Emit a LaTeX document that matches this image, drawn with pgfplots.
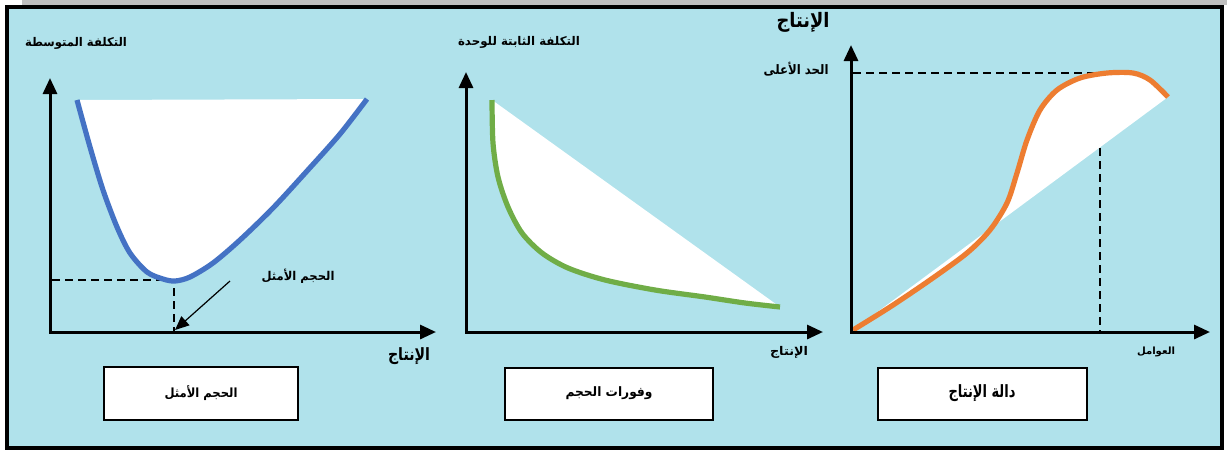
\documentclass[border=0pt]{standalone}
\usepackage{fontspec}
\usepackage{graphicx}
\usepackage{pgfplots}
\pgfplotsset{compat=1.18}
\usetikzlibrary{arrows.meta}
\newfontfamily\arabicfont[Script=Arabic]{DejaVu Sans}
\TeXXeTstate=1
% #1 width (pt), #2 total height (pt), #3 text
\newcommand{\ar}[3]{\resizebox*{#1pt}{#2pt}{\arabicfont\bfseries #3}}
\definecolor{bgblue}{RGB}{176,226,235}
\definecolor{cblue}{RGB}{68,114,196}
\definecolor{cgreen}{RGB}{112,173,71}
\definecolor{corange}{RGB}{237,125,49}
\begin{document}
\begin{tikzpicture}
\begin{axis}[width=613.5pt,height=226pt,scale only axis,
  xmin=0,xmax=1227,ymin=0,ymax=452,y dir=reverse,
  axis lines=none,clip=false]
% background
\fill[white] (axis cs:0,0) rectangle (axis cs:1227,452);
\fill[black!25] (axis cs:22,0) rectangle (axis cs:1227,5);
\fill[bgblue] (axis cs:7,7) rectangle (axis cs:1222,448);
\draw[line width=2pt] (axis cs:7,7) rectangle (axis cs:1222,448);

% ---------- panel 1 ----------
\addplot[fill=white,draw=none,smooth] coordinates {
 (77,100) (90,147) (103,190) (117,227) (130,253) (147,272) (163,279) (175,281)
 (190,277) (213,263) (240,240) (273,208) (307,171) (340,134) (367,99)} -- cycle;
\addplot[black,dashed,line width=0.75pt,dash pattern=on 4pt off 2.5pt] coordinates {(52,280) (174,280) (174,332)};
\addplot[cblue,line width=2.6pt,smooth] coordinates {
 (77,100) (90,147) (103,190) (117,227) (130,253) (147,272) (163,279) (175,281)
 (190,277) (213,263) (240,240) (273,208) (307,171) (340,134) (367,99)};
\draw[line width=1.5pt,-{Triangle[length=8pt,width=7pt]}] (axis cs:50,333) -- (axis cs:50,78);
\draw[line width=1.5pt,-{Triangle[length=8pt,width=7pt]}] (axis cs:49,332) -- (axis cs:436,332);
\draw[line width=0.6pt,-{Triangle[length=7pt,width=6pt]}] (axis cs:230,281) -- (axis cs:175,330);
\node at (axis cs:76,43) {\ar{51}{6}{\beginR التكلفة المتوسطة\endR}};
\node at (axis cs:409,356) {\ar{21}{8.5}{\beginR الإنتاج\endR}};
\node at (axis cs:298,276) {\ar{36.5}{7.2}{\beginR الحجم الأمثل\endR}};
\draw[fill=white,line width=1pt] (axis cs:104,367) rectangle (axis cs:298,420);
\node at (axis cs:201,393) {\ar{36.5}{7.5}{\beginR الحجم الأمثل\endR}};

% ---------- panel 2 ----------
\addplot[fill=white,draw=none,smooth] coordinates {
 (492,100) (493,143) (498,177) (508,207) (522,233) (542,253) (568,268) (605,280)
 (655,290) (705,297) (745,303) (780,307)} -- cycle;
\addplot[cgreen,line width=2.6pt,smooth] coordinates {
 (492,100) (493,143) (498,177) (508,207) (522,233) (542,253) (568,268) (605,280)
 (655,290) (705,297) (745,303) (780,307)};
\draw[line width=1.5pt,-{Triangle[length=8pt,width=7pt]}] (axis cs:466,333) -- (axis cs:466,72);
\draw[line width=1.5pt,-{Triangle[length=8pt,width=7pt]}] (axis cs:465,332) -- (axis cs:823,332);
\node at (axis cs:519,42) {\ar{61}{6}{\beginR التكلفة الثابتة للوحدة\endR}};
\node at (axis cs:789,352) {\ar{19}{6}{\beginR الإنتاج\endR}};
\draw[fill=white,line width=1pt] (axis cs:505,368) rectangle (axis cs:713,420);
\node at (axis cs:609,393) {\ar{43.5}{6.5}{\beginR وفورات الحجم\endR}};

% ---------- panel 3 ----------
\addplot[fill=white,draw=none,smooth] coordinates {
 (853,330) (890,307) (930,280) (967,253) (990,230) (1007,203) (1017,173) (1027,140)
 (1040,110) (1057,90) (1080,78) (1107,73) (1133,73) (1150,80) (1168,97)} -- cycle;
\addplot[black,dashed,line width=0.75pt,dash pattern=on 4pt off 2.5pt] coordinates {(853,73) (1113,73)};
\addplot[black,dashed,line width=0.75pt,dash pattern=on 4pt off 2.5pt] coordinates {(1100,148) (1100,332)};
\addplot[corange,line width=2.6pt,smooth] coordinates {
 (853,330) (890,307) (930,280) (967,253) (990,230) (1007,203) (1017,173) (1027,140)
 (1040,110) (1057,90) (1080,78) (1107,73) (1133,73) (1150,80) (1168,97)};
\draw[line width=1.5pt,-{Triangle[length=8pt,width=7pt]}] (axis cs:851,333) -- (axis cs:851,45);
\draw[line width=1.5pt,-{Triangle[length=8pt,width=7pt]}] (axis cs:850,332) -- (axis cs:1210,332);
\node at (axis cs:803,22) {\ar{26.5}{10}{\beginR الإنتاج\endR}};
\node at (axis cs:796,69) {\ar{32.5}{7}{\beginR الحد الأعلى\endR}};
\node at (axis cs:1156,352) {\ar{19}{5}{\beginR العوامل\endR}};
\draw[fill=white,line width=1pt] (axis cs:878,368) rectangle (axis cs:1087,420);
\node at (axis cs:982,393) {\ar{33.5}{8.5}{\beginR دالة الإنتاج\endR}};
\end{axis}
\end{tikzpicture}
\end{document}
